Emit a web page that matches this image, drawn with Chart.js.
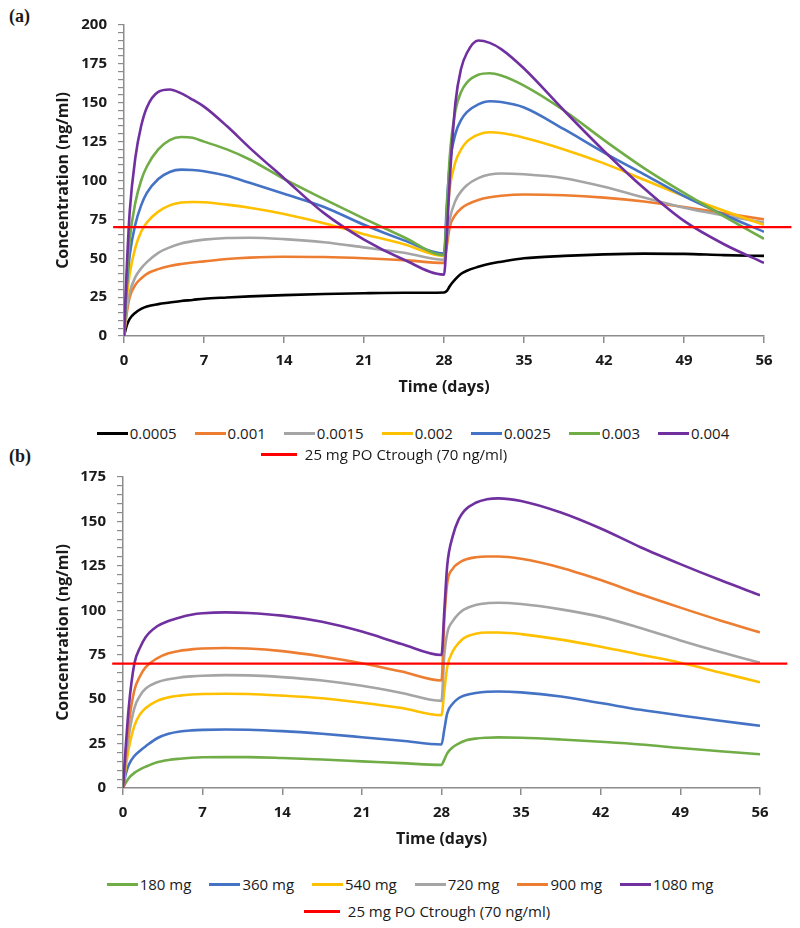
<!DOCTYPE html>
<html>
<head>
<meta charset="utf-8">
<style>
  body { margin: 0; background: #fff; width: 800px; height: 928px; position: relative; overflow: hidden; font-family: 'Open Sans', sans-serif; color: #1a1a1a }
  canvas { position: absolute; left: 0 }
  .tag { position: absolute; left: 9px; font: bold 18px/18px 'Liberation Serif', serif }
  .row { position: absolute; width: 800px; height: 20px; display: flex; justify-content: center; align-items: center; font-size: 15px; white-space: nowrap }
  .item { display: flex; align-items: center; margin: 0 9px }
  .swatch { width: 31px; height: 3px; margin-right: 2px }
</style>
</head>
<body>
  <div class="tag" style="top: 7px">(a)</div>
  <div class="tag" style="top: 447px">(b)</div>
  <canvas id="chartA" width="800" height="400" style="top: 0"></canvas>
  <canvas id="chartB" width="800" height="400" style="top: 452px"></canvas>
  <div id="legendA1" class="row" style="top: 423px; left: 13px"></div>
  <div id="legendA2" class="row" style="top: 444px; left: -16px"></div>
  <div id="legendB1" class="row" style="top: 874px; left: 10px"></div>
  <div id="legendB2" class="row" style="top: 901px; left: 27px"></div>
<script src="https://cdn.jsdelivr.net/npm/chart.js@4"></script>
<script>
  const FONT = "'Open Sans', sans-serif"
  const TEXT = '#1a1a1a'
  const AXIS = '#8c8c8c'

  // time points (days)
  const DAYS = [0, 0.25, 0.5, 1, 1.5, 2, 3, 4, 5, 6, 7, 9, 11, 14, 17.5, 21, 24.5, 28,
    28.25, 28.5, 29, 29.5, 30, 31, 32, 33, 35, 38.5, 42, 45.5, 49, 52.5, 56]
  const X_TICKS = [0, 7, 14, 21, 28, 35, 42, 49, 56]

  // (a) rate constants
  const A_NAMES = ['0.0005', '0.001', '0.0015', '0.002', '0.0025', '0.003', '0.004']
  const A_COLORS = ['#000000', '#ED7D31', '#A5A5A5', '#FFC000', '#4472C4', '#70AD47', '#7030A0']
  const A_0005 = [0, 7, 11, 15, 17.5, 19, 20.5, 21.5, 22.5, 23.2, 24, 24.8, 25.5, 26.3, 27, 27.5, 27.8, 28,
    29, 32, 36.5, 40, 42, 44.5, 46.5, 47.8, 50, 51.5, 52.5, 53, 52.8, 52, 51.5]
  const A_001 = [0, 15, 25, 33, 37, 40, 43, 45, 46.3, 47.3, 48, 49.5, 50.4, 51, 50.8, 50, 48.8, 47,
    58, 70, 78, 82, 84.5, 87.5, 89.2, 90.2, 91, 90.5, 89, 86.5, 83, 79, 75]
  const A_0015 = [0, 18, 28, 38, 43.5, 47.5, 53.5, 57, 59.5, 61, 62, 63, 63.2, 62.3, 60.3, 57, 53.5, 49,
    62, 75, 87, 93, 97, 101.5, 103.8, 104.5, 104, 101.5, 96, 89, 82.5, 77.5, 73]
  const A_002 = [0, 25, 40, 57, 67, 73, 80, 84, 85.8, 86.2, 86, 84.5, 82.5, 78.5, 72.5, 65.5, 59, 51.5,
    75, 95, 112, 120, 125, 129.5, 131, 130.5, 127.5, 120, 111, 100.5, 90, 80.5, 71.5]
  const A_0025 = [0, 32, 52, 72, 84, 92, 101, 105.5, 107, 106.8, 106, 103, 98.5, 91.5, 83, 71.5, 61.5, 53,
    85, 110, 130, 139, 144, 149, 151, 150.5, 147, 133, 118, 104, 90, 78, 67]
  const A_003 = [0, 38, 62, 86, 100, 109, 120, 126, 128, 127.5, 125, 120, 113.5, 101, 88, 75.5, 63.5, 52,
    80, 115, 145, 157, 163, 168, 169, 167.5, 161, 145, 126, 108, 92, 77, 62.5]
  const A_004 = [0, 45, 80, 115, 135, 147, 157, 158.5, 156, 152, 147.5, 135, 121, 101.5, 79, 62, 49, 39.5,
    65, 100, 150, 172, 182, 190, 188.5, 184.5, 172, 145, 119, 95, 74, 59, 47]

  // (b) doses
  const B_NAMES = ['180 mg', '360 mg', '540 mg', '720 mg', '900 mg', '1080 mg']
  const B_COLORS = ['#70AD47', '#4472C4', '#FFC000', '#A5A5A5', '#ED7D31', '#7030A0']
  const B_180 = [0, 3, 5.5, 8.5, 10.5, 12, 14.5, 15.8, 16.5, 17, 17.3, 17.4, 17.4, 16.9, 16, 15, 14, 13,
    16, 19.5, 23, 25, 26.5, 27.8, 28.3, 28.5, 28.3, 27.3, 26, 24.5, 22.5, 20.7, 19]
  const B_360 = [0, 8, 13, 18, 21, 23.5, 28, 30.5, 31.8, 32.4, 32.7, 32.9, 32.8, 32, 30.5, 28.6, 26.6, 24.5,
    33, 42, 47.5, 50.5, 52, 53.5, 54.2, 54.3, 53.8, 51.5, 47.8, 44, 40.8, 37.8, 35]
  const B_540 = [0, 12, 22, 35, 41.5, 45, 49, 51, 52, 52.6, 52.9, 53, 52.9, 52, 50.5, 48, 45, 41,
    55, 68, 77, 81.5, 84.5, 86.8, 87.5, 87.5, 86.6, 83.5, 79.5, 75, 70.5, 65, 59.5]
  const B_720 = [0, 16, 29, 45, 52, 56, 59.5, 61.2, 62.2, 62.8, 63.2, 63.5, 63.4, 62.4, 60.5, 57.5, 53.5, 49,
    75, 87, 94, 98, 100.5, 103, 104, 104.2, 103.5, 100.5, 96.3, 90, 83, 76.5, 70.5]
  const B_900 = [0, 20, 36, 55, 63, 68, 73, 75.8, 77.2, 78, 78.5, 78.8, 78.5, 77, 74, 70.2, 65.5, 60.5,
    95, 115, 123.5, 126.5, 128.3, 129.8, 130.3, 130.3, 129, 124, 117, 109, 101.5, 94.3, 87.6]
  const B_1080 = [0, 24, 45, 70, 79, 85, 91, 94, 96, 97.5, 98.3, 98.8, 98.5, 97, 93.5, 88, 81, 74.8,
    100, 125, 142, 151, 156, 160.5, 162.5, 163, 161.5, 155, 146, 135.5, 126, 117, 108.5]

  // reference trough line
  const TROUGH = 70
  const TROUGH_X = [-0.95, 58.4]
  const TROUGH_LABEL = '25 mg PO Ctrough (70 ng/ml)'
  const TROUGH_COLOR = '#FF0000'

  function buildChart(id, series, names, colors, yMax, axisWidth, padRight) {
    const n = series.length
    const datasets = series.map((vals, i) => ({
      label: names[i],
      data: vals.map((v, j) => ({ x: DAYS[j], y: v })),
      borderColor: colors[i],
      borderWidth: 2.6,
      pointRadius: 0,
      cubicInterpolationMode: 'monotone',
      order: n - i
    }))
    datasets.push({
      label: TROUGH_LABEL,
      data: TROUGH_X.map(x => ({ x: x, y: TROUGH })),
      borderColor: TROUGH_COLOR,
      borderWidth: 2.4,
      pointRadius: 0,
      clip: false,
      order: 0
    })
    return new Chart(document.getElementById(id), {
      type: 'line',
      data: { datasets: datasets },
      options: {
        responsive: false,
        animation: false,
        layout: { padding: { left: 0, top: 25, right: padRight, bottom: 3 } },
        plugins: { legend: { display: false }, tooltip: { enabled: false } },
        scales: {
          x: {
            type: 'linear',
            min: 0,
            max: 56,
            afterBuildTicks: s => { s.ticks = X_TICKS.map(v => ({ value: v })) },
            afterFit: s => { s.height = 61 },
            grid: { drawOnChartArea: false, tickLength: 7, color: AXIS, lineWidth: 1.5 },
            border: { color: AXIS, width: 1.5 },
            ticks: {
              padding: 9,
              maxRotation: 0,
              color: TEXT,
              font: { family: FONT, size: 15, weight: 'bold' }
            },
            title: {
              display: true,
              text: 'Time (days)',
              color: TEXT,
              padding: { top: 0, bottom: 0 },
              font: { family: FONT, size: 16, weight: 'bold' }
            }
          },
          y: {
            min: 0,
            max: yMax,
            afterFit: s => { s.width = axisWidth },
            grid: { drawOnChartArea: false, tickLength: 6, color: AXIS, lineWidth: 1.2 },
            border: { color: AXIS, width: 1.5 },
            ticks: {
              stepSize: 5,
              autoSkip: false,
              padding: 11,
              color: TEXT,
              font: { family: FONT, size: 15, weight: 'bold' },
              callback: v => (v % 25 === 0 ? v : '')
            },
            title: {
              display: true,
              text: 'Concentration (ng/ml)',
              color: TEXT,
              padding: { top: 54, bottom: 0 },
              font: { family: FONT, size: 16, weight: 'bold' }
            }
          }
        }
      }
    })
  }

  function legendItem(name, color, wide) {
    const item = document.createElement('div')
    item.className = 'item'
    const sw = document.createElement('span')
    sw.className = 'swatch'
    sw.style.background = color
    if (wide) {
      sw.style.width = '36px'
      sw.style.marginRight = '8px'
    }
    const label = document.createElement('span')
    label.textContent = name
    item.appendChild(sw)
    item.appendChild(label)
    return item
  }

  function buildLegend(rowId, troughId, names, colors) {
    const row = document.getElementById(rowId)
    names.forEach((name, i) => row.appendChild(legendItem(name, colors[i], false)))
    document.getElementById(troughId).appendChild(legendItem(TROUGH_LABEL, TROUGH_COLOR, true))
  }

  buildChart('chartA', [A_0005, A_001, A_0015, A_002, A_0025, A_003, A_004], A_NAMES, A_COLORS, 200, 124, 36)
  buildChart('chartB', [B_180, B_360, B_540, B_720, B_900, B_1080], B_NAMES, B_COLORS, 175, 123, 40)
  buildLegend('legendA1', 'legendA2', A_NAMES, A_COLORS)
  buildLegend('legendB1', 'legendB2', B_NAMES, B_COLORS)
</script>
</body>
</html>
